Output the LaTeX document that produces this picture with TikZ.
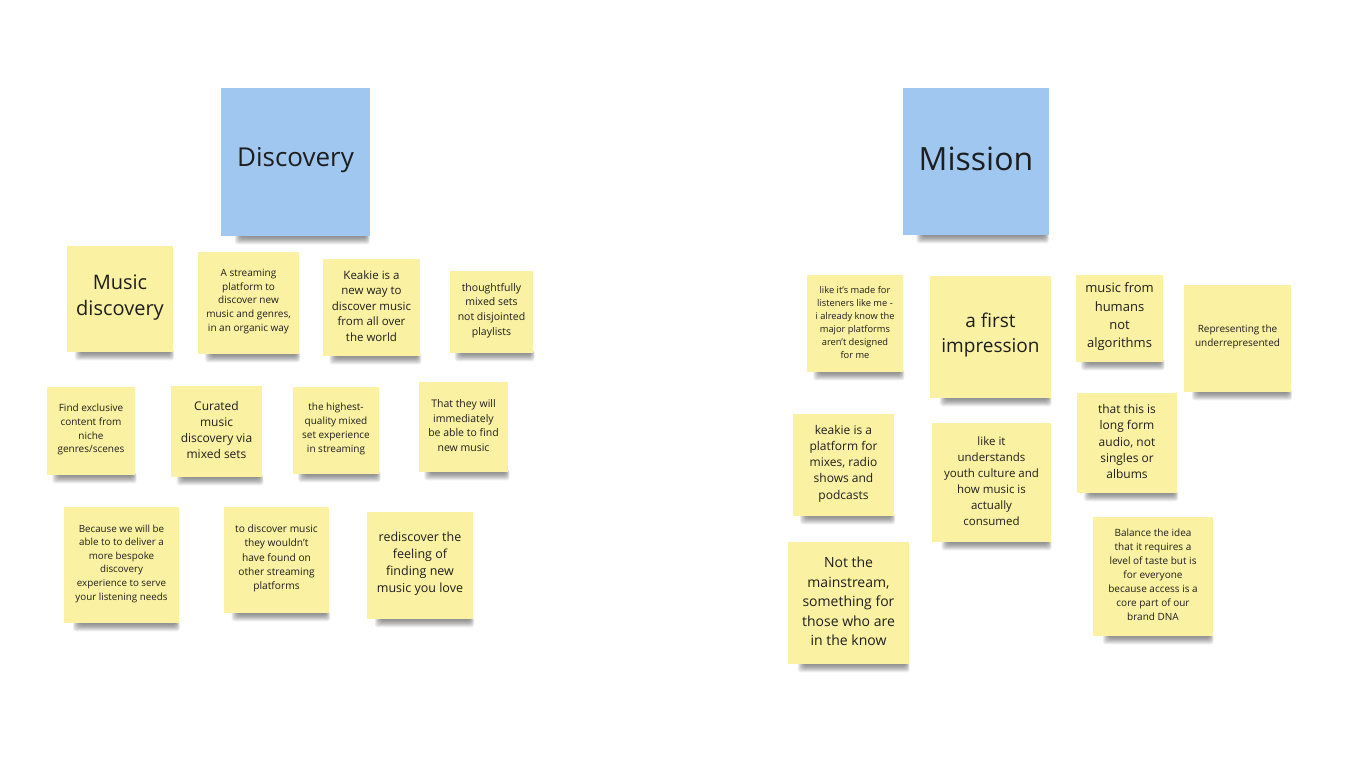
\documentclass[tikz,border=0pt]{standalone}
\usepackage{fontspec}
\setmainfont{Open Sans}
\definecolor{yel}{HTML}{FAF2A2}
\definecolor{blu}{HTML}{A0C7F0}
\definecolor{ink}{HTML}{1E1E1E}
\tikzset{
  stickynote/.style={inner sep=0pt, align=center, text=ink},
  shadowlayer/.style={fill=black, opacity=0.075, rounded corners=3pt},
}
% #1 name, #2 x0, #3 y0, #4 x1, #5 y1, #6 font size, #7 line skip, #8 fill, #9 text
\newcommand\sticky[9]{%
  \foreach \k in {1,...,7}{%
    \path[shadowlayer] ({#2+0.14*(#4-#2)-\k},{#5-3}) rectangle ({#4-0.03*(#4-#2)+0.6*\k},{#5+0.3+1.15*\k});
  }
  \node[stickynote, fill=#8, minimum width={#4-#2}, minimum height={#5-#3}] (#1) at ({(#2+#4)/2},{(#3+#5)/2}) {};
  \node[stickynote, font=\fontsize{#6}{#7}\selectfont, yshift=1.5pt] (#1-text) at (#1.center) {#9};
}
\begin{document}
\begin{tikzpicture}[x=1pt,y=-1pt]
\fill[white] (0,0) rectangle (1354,757);
\useasboundingbox (0,0) rectangle (1354,757);
% headers
\sticky{disc}{221}{88}{370}{236}{26}{34}{blu}{Discovery}
\sticky{miss}{903}{88}{1049}{235}{32}{40}{blu}{\raisebox{2pt}{Mission}}
% Discovery group
\sticky{md}{67}{246}{173}{352}{20}{26}{yel}{Music\\discovery}
\sticky{asp}{198}{252}{299}{354}{10}{13.6}{yel}{A streaming\\platform to\\discover new\\music and genres,\\in an organic way}
\sticky{kea}{323}{259}{420}{356}{11.5}{15.6}{yel}{Keakie is a\\new way to\\discover music\\from all over\\the world}
\sticky{tho}{450}{271}{533}{353}{10.5}{14.6}{yel}{thoughtfully\\mixed sets\\not disjointed\\playlists}
\sticky{fin}{47}{387}{135}{475}{10}{13.8}{yel}{Find exclusive\\content from\\niche\\genres/scenes}
\sticky{cur}{171}{386}{262}{477}{12}{15.8}{yel}{Curated\\music\\discovery via\\mixed sets}
\sticky{hig}{293}{387}{379}{474}{10}{14}{yel}{the highest-\\quality mixed\\set experience\\in streaming}
\sticky{tha}{419}{382}{508}{472}{10.5}{14.6}{yel}{That they will\\immediately\\be able to find\\new music}
\sticky{bec}{64}{507}{179}{623}{9.8}{13.6}{yel}{Because we will be\\able to to deliver a\\more bespoke\\discovery\\experience to serve\\your listening needs}
\sticky{tod}{224}{507}{329}{613}{10.2}{14.3}{yel}{to discover music\\they wouldn't\\have found on\\other streaming\\platforms}
\sticky{red}{367}{512}{473}{619}{12.5}{17}{yel}{rediscover the\\feeling of\\finding new\\music you love}
% Mission group
\sticky{lik}{807}{275}{903}{372}{9.3}{13}{yel}{like it's made for\\listeners like me -\\i already know the\\major platforms\\aren't designed\\for me}
\sticky{fir}{930}{276}{1051}{398}{19}{25}{yel}{a first\\impression}
\sticky{mus}{1076}{275}{1163}{362}{13}{18.3}{yel}{music from\\humans\\not\\algorithms}
\sticky{rep}{1184}{285}{1291}{392}{10}{14}{yel}{Representing the\\underrepresented}
\sticky{kpl}{793}{414}{894}{516}{12}{16.3}{yel}{keakie is a\\platform for\\mixes, radio\\shows and\\podcasts}
\sticky{lun}{932}{423}{1051}{542}{11.5}{16}{yel}{like it\\understands\\youth culture and\\how music is\\actually\\consumed}
\sticky{ttl}{1077}{393}{1177}{493}{12}{16.3}{yel}{that this is\\long form\\audio, not\\singles or\\albums}
\sticky{not}{788}{542}{909}{664}{14}{19.5}{yel}{Not the\\mainstream,\\something for\\those who are\\in the know}
\sticky{bal}{1093}{517}{1213}{636}{10}{14}{yel}{Balance the idea\\that it requires a\\level of taste but is\\for everyone\\because access is a\\core part of our\\brand DNA}
\end{tikzpicture}
\end{document}
